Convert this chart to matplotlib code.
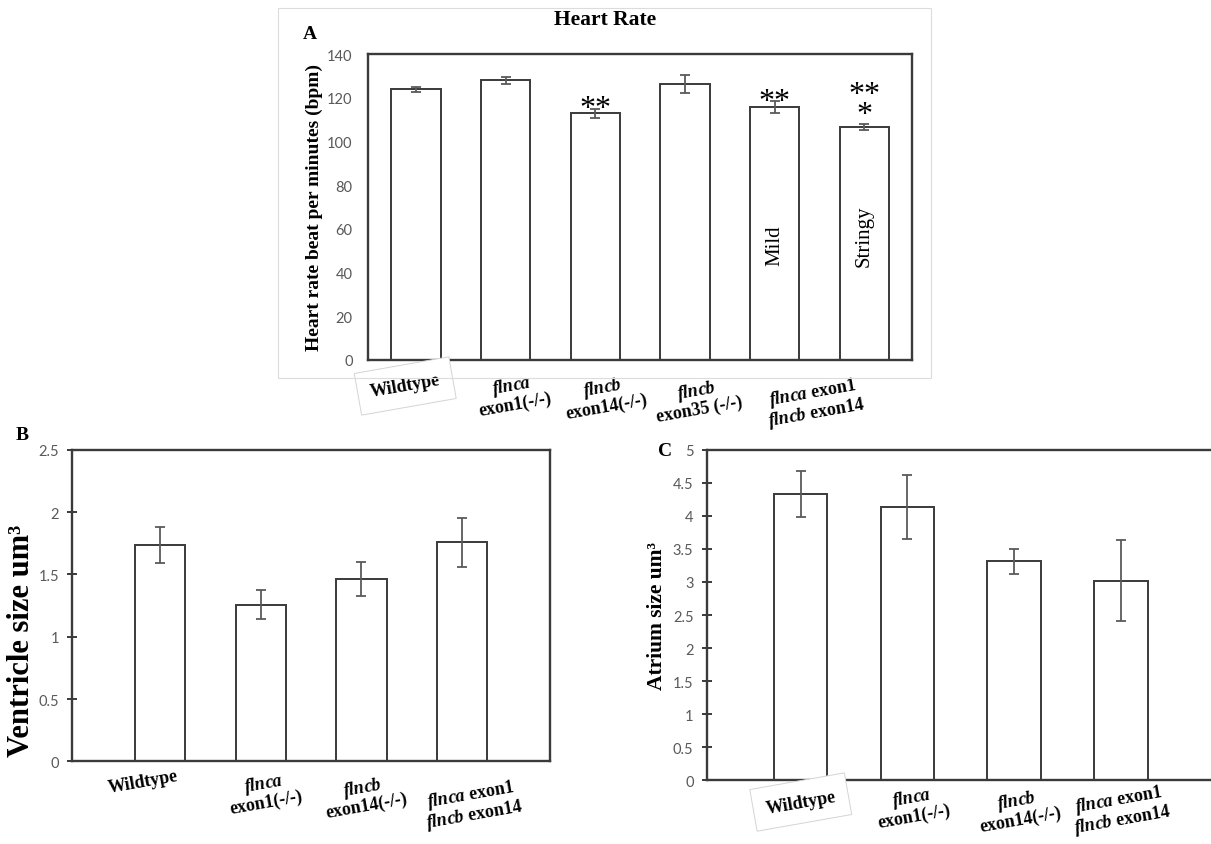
import matplotlib.pyplot as plt
from matplotlib.patches import Rectangle
from matplotlib.ticker import FormatStrFormatter

plt.rcParams['mathtext.fontset'] = 'custom'
plt.rcParams['mathtext.it'] = 'Liberation Serif:italic:bold'
plt.rcParams['mathtext.rm'] = 'Liberation Serif:bold'
plt.rcParams['mathtext.bf'] = 'Liberation Serif:bold'

# heart rate (panel A)
hr_labels = ['Wildtype',
             r'$\mathit{flnca}$' + '\nexon1(-/-)',
             r'$\mathit{flncb}$' + '\nexon14(-/-)',
             r'$\mathit{flncb}$' + '\nexon35 (-/-)',
             r'$\mathit{flnca}$ exon1' + '\n' + r'$\mathit{flncb}$ exon14']
hr_mean = [123.8, 127.9, 112.9, 126.3, 115.7, 106.7]
hr_err = [1.3, 1.4, 2.1, 4.0, 2.6, 1.3]
hr_stars = ['', '', '**', '', '**', '**\n*']
hr_inside = ['', '', '', '', 'Mild', 'Stringy']
hr_inside_y = [0, 0, 0, 0, 52.6, 57.0]
hr_ticks = [0, 20, 40, 60, 80, 100, 120, 140]

# ventricle / atrium (panels B and C)
size_labels = ['Wildtype',
               r'$\mathit{flnca}$' + '\nexon1(-/-)',
               r'$\mathit{flncb}$' + '\nexon14(-/-)',
               r'$\mathit{flnca}$ exon1' + '\n' + r'$\mathit{flncb}$ exon14']
ven_mean = [1.74, 1.258, 1.464, 1.757]
ven_err = [0.145, 0.118, 0.14, 0.2]
ven_ticks = [0, 0.5, 1, 1.5, 2, 2.5]
atr_mean = [4.335, 4.134, 3.313, 3.017]
atr_err = [0.345, 0.48, 0.185, 0.615]
atr_ticks = [0, 0.5, 1, 1.5, 2, 2.5, 3, 3.5, 4, 4.5, 5]

serif = 'Liberation Serif'
tickfont = 'Lato'
edge = '#3a3a3a'
errc = '#5a5a5a'
grey = '#595959'

fig = plt.figure(figsize=(12.11, 8.45), dpi=100)

# light frame round panel A
fig.patches.append(Rectangle((0.2296, 0.5515), 0.5392, 0.4378, transform=fig.transFigure,
                             fill=False, ec='#dcdcdc', lw=0.8, zorder=0))


def bar_panel(ax, means, errs, width, yticks, tick_style):
    x = range(len(means))
    ax.bar(x, means, width=width, color='white', edgecolor=edge, linewidth=1.4, zorder=2)
    ax.errorbar(x, means, yerr=errs, fmt='none', ecolor=errc, elinewidth=1.3,
                capsize=3.5, capthick=1.3, zorder=3)
    ax.set_ylim(yticks[0], yticks[-1])
    ax.set_yticks(yticks)
    ax.yaxis.set_major_formatter(FormatStrFormatter('%g'))
    ax.set_xticks([])
    for s in ax.spines.values():
        s.set_color(edge)
        s.set_linewidth(1.7)
    if tick_style == 'none':
        ax.tick_params(axis='y', length=0, pad=11, labelsize=10.5, labelcolor=grey)
    else:
        ax.tick_params(axis='y', direction='inout', length=7, width=1.4, color=edge,
                       pad=6, labelsize=10.5, labelcolor=grey)
    for t in ax.get_yticklabels():
        t.set_fontfamily(tickfont)


def group_labels(ax, labels, dx, dy, boxed):
    for i, lab in enumerate(labels):
        kw = {}
        if boxed and i == 0:
            kw['bbox'] = dict(boxstyle='square,pad=0.7', fc='white', ec='#d4d4d4', lw=0.7)
        ax.annotate(lab, xy=(i + dx[i], 0), xycoords=('data', 'axes fraction'),
                    xytext=(0, -dy[i]), textcoords='offset pixels', ha='center', va='center',
                    rotation=10, rotation_mode='anchor', fontsize=13, fontweight='bold',
                    family=serif, linespacing=1.0, annotation_clip=False, zorder=5, **kw)


# panel A
axA = fig.add_axes([0.3039, 0.5728, 0.4492, 0.3621])
bar_panel(axA, hr_mean, hr_err, 0.55, hr_ticks, 'none')
axA.set_xlim(-0.535, 5.53)
axA.set_ylabel('Heart rate beat per minutes (bpm)', family=serif, fontweight='bold',
               fontsize=14)
axA.yaxis.set_label_coords(-0.082, 0.5)
group_labels(axA, hr_labels, [-0.12, 0.08, 0.1, 0.14, 0.44], [26, 34, 36, 39, 42], True)
for i, st in enumerate(hr_stars):
    if st:
        off = -5.2 if '\n' not in st else 1.3
        axA.annotate(st, xy=(i, hr_mean[i] + hr_err[i]), xytext=(0, off),
                     textcoords='offset points', ha='center', va='baseline',
                     fontsize=23, family=serif, linespacing=0.62)
for i, txt in enumerate(hr_inside):
    if txt:
        axA.text(i, hr_inside_y[i], txt, rotation=90, ha='center', va='center',
                 fontsize=15, family=serif)
fig.text(0.4996, 0.9763, 'Heart Rate', ha='center', va='center', family=serif,
         fontweight='bold', fontsize=15.5)
fig.text(0.256, 0.9586, 'A', ha='center', va='center', family=serif,
         fontweight='bold', fontsize=14)

# panel B
axB = fig.add_axes([0.0597, 0.0979, 0.3945, 0.3684])
bar_panel(axB, ven_mean, ven_err, 0.5, ven_ticks, 'inout')
axB.set_xlim(-0.871, 3.873)
axB.set_ylabel('Ventricle size um³', family=serif, fontweight='bold', fontsize=22)
axB.yaxis.set_label_coords(-0.076, 0.39)
group_labels(axB, size_labels, [-0.17, 0.04, 0.03, 0.1], [20, 30, 34, 43], False)
fig.text(0.018, 0.485, 'B', ha='center', va='center', family=serif,
         fontweight='bold', fontsize=14)

# panel C
axC = fig.add_axes([0.5836, 0.0757, 0.4164, 0.3906])
bar_panel(axC, atr_mean, atr_err, 0.5, atr_ticks, 'inout')
axC.set_xlim(-0.881, 3.845)
axC.spines['right'].set_visible(False)
axC.set_ylabel('Atrium size um³', family=serif, fontweight='bold', fontsize=15.5)
axC.yaxis.set_label_coords(-0.079, 0.5)
group_labels(axC, size_labels, [0.0, 0.05, 0.04, 0.0], [22, 26, 29, 29], True)
fig.text(0.549, 0.4655, 'C', ha='center', va='center', family=serif,
         fontweight='bold', fontsize=14)

plt.savefig('out.png', dpi=100)
